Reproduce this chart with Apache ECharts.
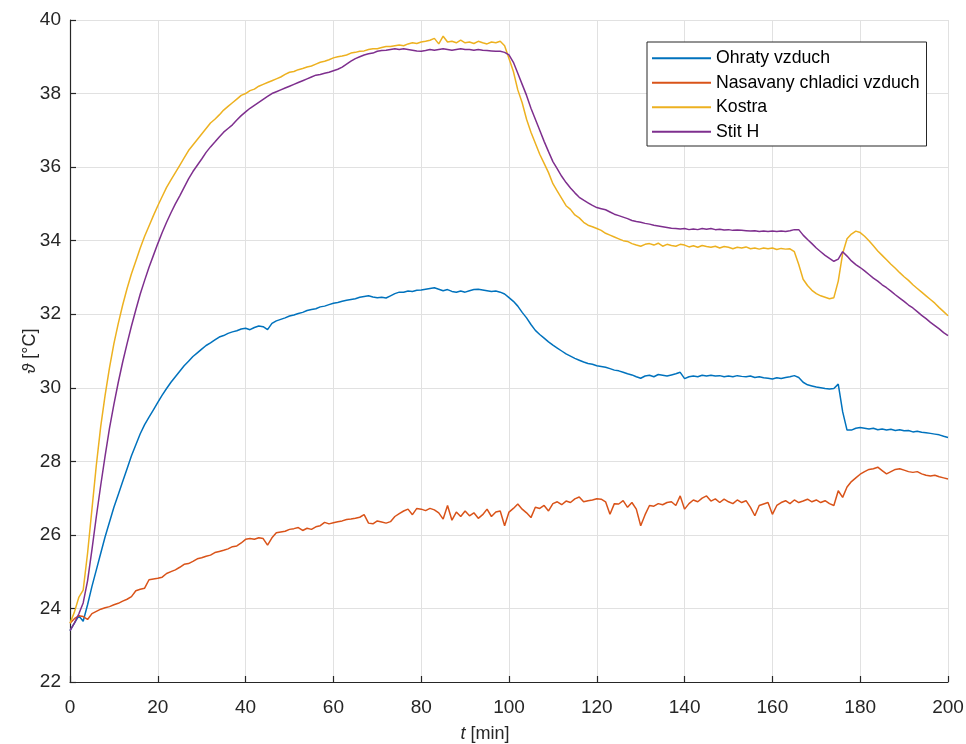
<!DOCTYPE html>
<html>
<head>
<meta charset="utf-8">
<script src="https://cdn.jsdelivr.net/npm/echarts@6/dist/echarts.min.js"></script>
<style>
  html, body { margin: 0; padding: 0; background: #ffffff; }
  #chart { width: 966px; height: 744px; }
</style>
</head>
<body>
<div id="chart"></div>
<script>
// Time axis in minutes (one sample per minute)
const timeMin = [];
for (let i = 0; i <= 200; i++) timeMin.push(i);

// Legend / series names
const seriesNames = ['Ohraty vzduch', 'Nasavany chladici vzduch', 'Kostra', 'Stit H'];

// Heated air temperature [°C]
const ohratyVzduch = [
  23.4, 23.6, 23.8, 23.65, 24.1, 24.6, 25.05, 25.5, 25.95, 26.35,
  26.75, 27.1, 27.45, 27.8, 28.15, 28.45, 28.75, 29.0, 29.2, 29.4,
  29.6, 29.8, 29.98, 30.15, 30.3, 30.45, 30.6, 30.72, 30.85, 30.95,
  31.05, 31.15, 31.22, 31.3, 31.38, 31.42, 31.48, 31.52, 31.55, 31.6,
  31.62, 31.58, 31.64, 31.68, 31.66, 31.58, 31.75, 31.82, 31.86, 31.9,
  31.95, 31.98, 32.02, 32.05, 32.1, 32.13, 32.15, 32.2, 32.22, 32.26,
  32.3, 32.32, 32.35, 32.38, 32.4, 32.42, 32.46, 32.48, 32.5, 32.47,
  32.45, 32.46, 32.44, 32.5, 32.56, 32.6, 32.6, 32.63, 32.62, 32.65,
  32.66, 32.68, 32.7, 32.72, 32.68, 32.64, 32.67, 32.62, 32.6, 32.63,
  32.6, 32.64, 32.67, 32.68, 32.66, 32.64, 32.62, 32.63, 32.6, 32.55,
  32.45, 32.35, 32.22, 32.05, 31.9, 31.72, 31.56, 31.45, 31.35, 31.25,
  31.16, 31.08, 31.0, 30.92, 30.86, 30.8, 30.75, 30.7, 30.66, 30.64,
  30.6, 30.58, 30.56, 30.52, 30.48, 30.46, 30.42, 30.38, 30.35, 30.3,
  30.26, 30.32, 30.34, 30.3, 30.36, 30.34, 30.32, 30.35, 30.38, 30.42,
  30.25, 30.3, 30.32, 30.3, 30.34, 30.32, 30.34, 30.32, 30.33, 30.3,
  30.32, 30.3, 30.33, 30.31, 30.3, 30.32, 30.28, 30.3, 30.27, 30.26,
  30.24, 30.27, 30.25, 30.28, 30.3, 30.33, 30.28, 30.15, 30.08, 30.05,
  30.02, 30.0, 29.98, 29.97, 29.98, 30.1, 29.35, 28.85, 28.85, 28.9,
  28.92, 28.9, 28.88, 28.9, 28.86, 28.88, 28.85, 28.87, 28.84, 28.86,
  28.83, 28.84, 28.8, 28.82, 28.79, 28.78, 28.76, 28.74, 28.72, 28.68,
  28.65
];

// Intake cooling air temperature [°C]
const nasavanyVzduch = [
  23.6, 23.72, 23.8, 23.78, 23.7, 23.86, 23.92, 23.98, 24.02, 24.05,
  24.1, 24.14, 24.2, 24.25, 24.32, 24.48, 24.52, 24.55, 24.78, 24.8,
  24.82, 24.85, 24.95, 25.0, 25.05, 25.12, 25.2, 25.22, 25.28, 25.35,
  25.38, 25.42, 25.45, 25.52, 25.55, 25.58, 25.62, 25.68, 25.7, 25.78,
  25.88, 25.9, 25.88, 25.92, 25.9, 25.72, 25.92, 26.06, 26.08, 26.1,
  26.15, 26.17, 26.2, 26.12, 26.18, 26.15, 26.22, 26.25, 26.34, 26.3,
  26.33, 26.36, 26.38, 26.42, 26.43, 26.45, 26.48, 26.55, 26.32, 26.3,
  26.38, 26.35, 26.32, 26.36, 26.5, 26.58, 26.65, 26.7, 26.55, 26.72,
  26.7, 26.66, 26.72, 26.68, 26.6, 26.43, 26.8, 26.4, 26.62, 26.5,
  26.65, 26.52, 26.6, 26.45, 26.55, 26.7, 26.5, 26.62, 26.65, 26.25,
  26.62, 26.72, 26.84, 26.7, 26.6, 26.47, 26.75, 26.72, 26.8, 26.65,
  26.85, 26.9, 26.82, 26.92, 26.88, 26.98, 27.03, 26.9, 26.93, 26.95,
  26.98, 26.97, 26.9, 26.56, 26.85, 26.84, 26.93, 26.75, 26.88, 26.7,
  26.25, 26.55, 26.8, 26.78, 26.85, 26.82, 26.88, 26.9, 26.8, 27.06,
  26.7, 26.85, 26.95, 26.9, 27.0, 27.06, 26.92, 26.98, 26.88, 26.97,
  26.9, 26.85, 26.95, 26.88, 26.93, 26.75, 26.52, 26.8, 26.84, 26.88,
  26.56, 26.8, 26.88, 26.93, 26.85, 26.95, 26.88, 26.92, 26.97, 26.9,
  26.95, 26.88, 26.93, 26.85, 26.8, 27.2, 27.02, 27.3, 27.45, 27.55,
  27.65, 27.72, 27.78, 27.8, 27.84, 27.75, 27.66, 27.72, 27.78, 27.8,
  27.76, 27.72, 27.7, 27.72, 27.66, 27.62, 27.6, 27.62, 27.58, 27.55,
  27.52
];

// Frame (Kostra) temperature [°C]
const kostra = [
  23.6, 23.9, 24.3, 24.5, 25.5, 26.7, 27.9, 28.95, 29.8, 30.55,
  31.2, 31.75, 32.25, 32.7, 33.1, 33.45, 33.8, 34.12, 34.4, 34.68,
  34.95, 35.2, 35.45, 35.65, 35.85, 36.05, 36.25, 36.45, 36.6, 36.75,
  36.9, 37.05, 37.2, 37.3, 37.42, 37.55, 37.65, 37.75, 37.85, 37.95,
  38.0, 38.08, 38.12, 38.2, 38.25, 38.3, 38.35, 38.4, 38.45, 38.52,
  38.58, 38.6, 38.65, 38.68, 38.72, 38.75, 38.8, 38.85, 38.88, 38.92,
  38.97, 39.0, 39.02, 39.05, 39.1, 39.12, 39.15, 39.16, 39.2, 39.22,
  39.22, 39.25, 39.28, 39.28, 39.3, 39.32, 39.3, 39.35, 39.38, 39.36,
  39.4, 39.42, 39.45, 39.5, 39.35, 39.56, 39.4, 39.42, 39.38, 39.45,
  39.38, 39.4, 39.36, 39.42, 39.38, 39.35, 39.4, 39.38, 39.42, 39.3,
  38.95, 38.6, 38.1, 37.75, 37.3, 36.95, 36.65, 36.35, 36.1, 35.85,
  35.55, 35.35, 35.15, 34.95, 34.85, 34.7, 34.62, 34.5, 34.42, 34.38,
  34.33, 34.28, 34.2, 34.15, 34.1, 34.05, 34.0, 33.98, 33.92, 33.88,
  33.85, 33.9, 33.92, 33.88, 33.93, 33.85, 33.9, 33.87, 33.85, 33.9,
  33.88, 33.83, 33.86, 33.82, 33.87, 33.84, 33.82, 33.85, 33.8, 33.84,
  33.82, 33.78, 33.82, 33.8, 33.83, 33.78, 33.8, 33.77, 33.8, 33.78,
  33.8, 33.76, 33.79, 33.77, 33.78, 33.7, 33.35, 32.95, 32.78, 32.65,
  32.56, 32.5, 32.46, 32.42, 32.45, 32.9, 33.65, 34.05, 34.18, 34.26,
  34.22, 34.12, 34.0, 33.86, 33.72, 33.6, 33.48, 33.36, 33.25, 33.13,
  33.02, 32.92, 32.8, 32.7, 32.6, 32.5, 32.4, 32.3, 32.18, 32.07,
  31.96
];

// Shield H (Stit H) temperature [°C]
const stitH = [
  23.4, 23.6, 23.85, 24.15, 24.75, 25.6, 26.5, 27.35, 28.15, 28.9,
  29.55, 30.15, 30.7, 31.2, 31.68, 32.12, 32.55, 32.92, 33.28, 33.6,
  33.92, 34.22, 34.5, 34.76, 35.0, 35.22, 35.45, 35.68, 35.88, 36.05,
  36.22, 36.4, 36.55, 36.68, 36.82, 36.95, 37.05, 37.15, 37.28, 37.4,
  37.5, 37.6, 37.68, 37.76, 37.84, 37.92, 38.0, 38.05, 38.1, 38.15,
  38.2, 38.25, 38.3, 38.35, 38.4, 38.45, 38.5, 38.52, 38.55, 38.58,
  38.62, 38.66, 38.72, 38.8, 38.88, 38.95, 39.0, 39.05, 39.08, 39.1,
  39.15, 39.17, 39.18, 39.2, 39.22, 39.2, 39.22, 39.2, 39.18, 39.16,
  39.15, 39.17, 39.2, 39.18, 39.2, 39.22, 39.2, 39.18, 39.2, 39.22,
  39.2, 39.2, 39.18, 39.2, 39.18, 39.17, 39.16, 39.15, 39.15, 39.12,
  39.05, 38.85, 38.55, 38.25, 37.95, 37.6, 37.3, 37.0, 36.7, 36.42,
  36.15, 35.95, 35.75, 35.58, 35.43, 35.3, 35.18, 35.1, 35.03, 34.96,
  34.9, 34.87, 34.84, 34.78, 34.72, 34.68, 34.64, 34.6, 34.55, 34.52,
  34.5, 34.47, 34.45, 34.42, 34.4, 34.38, 34.36, 34.34, 34.33, 34.32,
  34.33, 34.3, 34.32, 34.3, 34.33, 34.31, 34.33, 34.3, 34.31, 34.29,
  34.3, 34.28, 34.29, 34.28, 34.27, 34.26, 34.27, 34.25, 34.26, 34.25,
  34.26, 34.25, 34.26, 34.25, 34.27, 34.3, 34.3, 34.15, 34.03, 33.92,
  33.8, 33.7, 33.6, 33.52, 33.44, 33.5, 33.7, 33.58, 33.45, 33.35,
  33.27, 33.18, 33.08, 32.98, 32.9, 32.8, 32.72, 32.63, 32.53, 32.44,
  32.35, 32.25, 32.17, 32.07, 31.97, 31.88, 31.78, 31.69, 31.6, 31.5,
  31.42
];

// Axis ranges and ticks
const xMin = 0, xMax = 200, xStep = 20;
const yMin = 22, yMax = 40, yStep = 2;

const lineColors = ['#0072BD', '#D95319', '#EDB120', '#7E2F8E'];
const allValues = [ohratyVzduch, nasavanyVzduch, kostra, stitH];

const pairs = vals => timeMin.map((t, i) => [t, vals[i]]);

const axisColor = '#262626';
const font = 'Liberation Sans, Arial, Helvetica, sans-serif';

const chart = echarts.init(document.getElementById('chart'), null, { renderer: 'canvas' });
chart.setOption({
  animation: false,
  backgroundColor: '#ffffff',
  grid: { left: 70, right: 18, top: 20, bottom: 62, containLabel: false, outerBoundsMode: 'none' },
  legend: {
    orient: 'vertical',
    left: 647,
    top: 42,
    padding: [6, 7, 4, 5],
    itemWidth: 59,
    itemHeight: 2,
    itemGap: 4,
    icon: 'rect',
    backgroundColor: '#ffffff',
    borderColor: axisColor,
    borderWidth: 1,
    borderRadius: 0,
    textStyle: { fontFamily: font, fontSize: 17.7, color: '#000000', lineHeight: 20.5 },
    data: seriesNames
  },
  xAxis: {
    type: 'value',
    min: xMin, max: xMax, interval: xStep,
    name: '{i|t} [min]',
    nameLocation: 'middle',
    nameGap: 43,
    nameMoveOverlap: false,
    nameTextStyle: {
      fontFamily: font, fontSize: 18, color: axisColor,
      padding: [0, 48, 0, 0],
      rich: { i: { fontFamily: font, fontSize: 18, fontStyle: 'italic', color: axisColor } }
    },
    axisLine: { show: true, lineStyle: { color: axisColor, width: 1.2 } },
    axisTick: { show: true, inside: true, length: 6, lineStyle: { color: axisColor, width: 1.2 } },
    axisLabel: { fontFamily: font, fontSize: 19, color: axisColor, margin: 16 },
    splitLine: { show: true, lineStyle: { color: '#e1e1e1', width: 1 } }
  },
  yAxis: {
    type: 'value',
    min: yMin, max: yMax, interval: yStep,
    name: '{i|ϑ} [°C]',
    nameLocation: 'middle',
    nameGap: 31,
    nameMoveOverlap: false,
    nameRotate: 90,
    nameTextStyle: {
      fontFamily: font, fontSize: 18, color: axisColor,
      rich: { i: { fontFamily: font, fontSize: 18, fontStyle: 'italic', color: axisColor } }
    },
    axisLine: { show: true, lineStyle: { color: axisColor, width: 1.2 } },
    axisTick: { show: true, inside: true, length: 6, lineStyle: { color: axisColor, width: 1.2 } },
    axisLabel: { fontFamily: font, fontSize: 19, color: axisColor, margin: 9 },
    splitLine: { show: true, lineStyle: { color: '#e1e1e1', width: 1 } }
  },
  series: seriesNames.map((name, k) => ({
    name,
    type: 'line',
    data: pairs(allValues[k]),
    showSymbol: false,
    symbol: 'none',
    smooth: false,
    lineStyle: { color: lineColors[k], width: 1.5 },
    itemStyle: { color: lineColors[k] },
    z: 2 + k
  }))
});
</script>
</body>
</html>
